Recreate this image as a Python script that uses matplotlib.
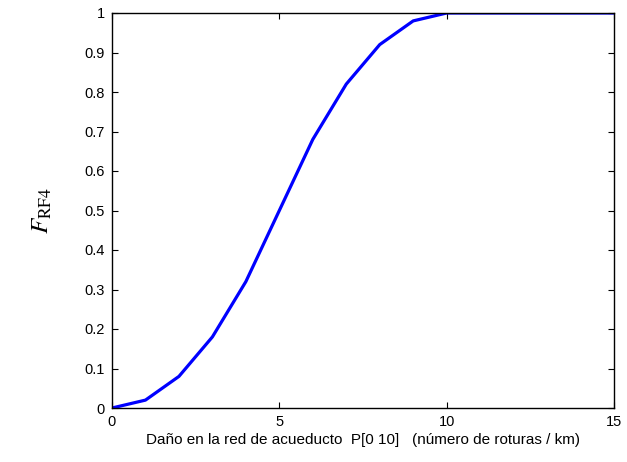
import matplotlib
matplotlib.use("Agg")
import matplotlib.pyplot as plt

# Cumulative fragility curve values
damage = [0, 1, 2, 3, 4, 5, 6, 7, 8, 9, 10, 11, 12, 13, 14, 15]
f_rf4 = [0.0, 0.02, 0.08, 0.18, 0.32, 0.50, 0.68, 0.82, 0.92, 0.98, 1.0, 1.0, 1.0, 1.0, 1.0, 1.0]
x_ticks = [0, 5, 10, 15]
y_ticks = [0, 0.1, 0.2, 0.3, 0.4, 0.5, 0.6, 0.7, 0.8, 0.9, 1]
y_tick_labels = ["0", "0.1", "0.2", "0.3", "0.4", "0.5", "0.6", "0.7", "0.8", "0.9", "1"]

plt.rcParams["font.family"] = ["Liberation Sans", "DejaVu Sans"]
plt.rcParams["mathtext.fontset"] = "stix"

fig = plt.figure(figsize=(6.27, 4.62), dpi=100)
ax = fig.add_axes([112 / 627, 1 - 408 / 462, (614 - 112) / 627, (408 - 13) / 462])

ax.plot(damage, f_rf4, color="#0000ff", linewidth=2.3, solid_joinstyle="round")

ax.set_xlim(0, 15)
ax.set_ylim(0, 1)
ax.set_xticks(x_ticks)
ax.set_xticklabels([str(t) for t in x_ticks])
ax.set_yticks(y_ticks)
ax.set_yticklabels(y_tick_labels)
ax.tick_params(direction="in", length=4, width=0.8, labelsize=10.5, top=True, right=True,
               labeltop=False, labelright=False, pad=5)
for s in ax.spines.values():
    s.set_linewidth(1.0)
    s.set_color("black")

ax.set_xlabel("Daño en la red de acueducto  P[0 10]   (número de roturas / km)", fontsize=11, labelpad=3)
ax.set_ylabel(r"$F_{\mathrm{RF4}}$", fontsize=18, labelpad=22)

fig.savefig("out.png", dpi=100)
